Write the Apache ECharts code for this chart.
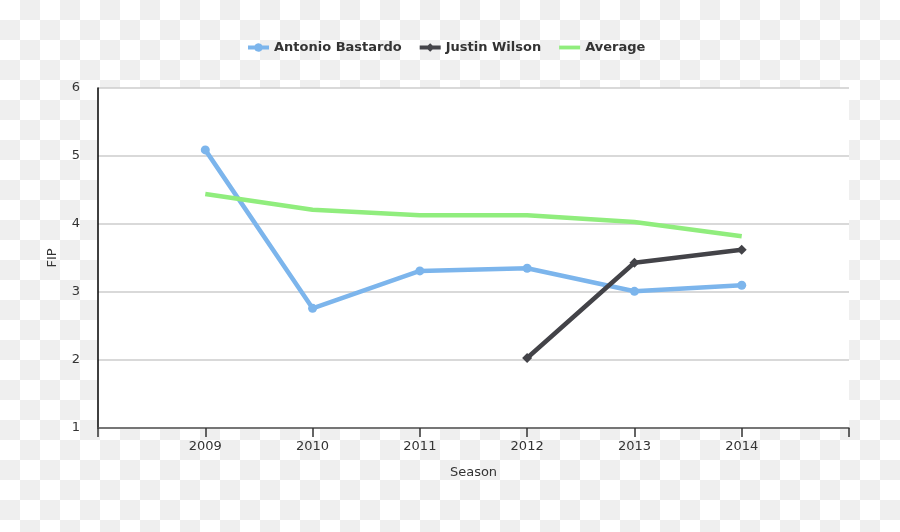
<!DOCTYPE html>
<html>
<head>
<meta charset="utf-8">
<script src="https://cdn.jsdelivr.net/npm/echarts@6/dist/echarts.min.js"></script>
<style>
html,body{margin:0;padding:0;}
body{background:repeating-conic-gradient(#efefef 0 25%, #fff 0 50%) 0 0/40px 40px;}
#c{width:900px;height:532px;}
</style>
</head>
<body>
<div id="c"></div>
<script>
const seasons = [2009, 2010, 2011, 2012, 2013, 2014];
const bastardo = [5.09, 2.76, 3.31, 3.35, 3.01, 3.10];
const wilsonSeasons = [2012, 2013, 2014];
const wilson = [2.03, 3.43, 3.62];
const average = [4.44, 4.21, 4.13, 4.13, 4.03, 3.82];
const yTicks = [1, 2, 3, 4, 5, 6];

const pair = (xs, ys) => xs.map((x, i) => [x, ys[i]]);
const font = 'DejaVu Sans';

const iconCircle = 'path://M0,5H6.97A4.5,4.5 0 0 1 15.03,5H22V9H15.03A4.5,4.5 0 0 1 6.97,9H0Z';
const iconDiamond = 'path://M0,5H8.5L11,2.5L13.5,5H22V9H13.5L11,11.5L8.5,9H0Z';
const iconLine = 'path://M0,5H22V9H0Z';

const chart = echarts.init(document.getElementById('c'), null, {renderer: 'canvas'});
chart.setOption({
  backgroundColor: 'transparent',
  animation: false,
  textStyle: {fontFamily: font},
  legend: {
    top: 41,
    left: 248,
    padding: 0,
    itemGap: 18,
    itemWidth: 21,
    itemHeight: 10,
    textStyle: {fontFamily: font, fontSize: 13, fontWeight: 'bold', color: '#333'},
    data: [
      {name: 'Antonio Bastardo', icon: iconCircle},
      {name: 'Justin Wilson', icon: iconDiamond},
      {name: 'Average', icon: iconLine}
    ]
  },
  grid: {
    left: 98, right: 51, top: 88, bottom: 104,
    show: true, backgroundColor: '#fff', borderWidth: 0
  },
  xAxis: {
    type: 'value',
    min: 2008, max: 2015, interval: 1,
    name: 'Season',
    nameLocation: 'middle',
    nameGap: 38,
    nameTextStyle: {fontFamily: font, fontSize: 13, color: '#333'},
    axisLine: {show: true, lineStyle: {color: '#555', width: 1.5}},
    axisTick: {show: true, length: 9, lineStyle: {color: '#333', width: 1.5}},
    axisLabel: {
      margin: 12, fontFamily: font, fontSize: 13, color: '#333',
      formatter: v => seasons.indexOf(v) >= 0 ? String(v) : ''
    },
    splitLine: {show: false}
  },
  yAxis: {
    type: 'value',
    min: yTicks[0], max: yTicks[yTicks.length - 1], interval: 1,
    name: 'FIP',
    nameLocation: 'middle',
    nameGap: 39,
    nameTextStyle: {fontFamily: font, fontSize: 13, color: '#333'},
    axisLine: {show: true, lineStyle: {color: '#000', width: 1.5}},
    axisTick: {show: false},
    axisLabel: {margin: 18, fontFamily: font, fontSize: 13, color: '#333'},
    splitLine: {show: true, lineStyle: {color: '#ccc', width: 1.5}}
  },
  series: [
    {
      name: 'Antonio Bastardo', type: 'line',
      data: pair(seasons, bastardo),
      color: '#7cb5ec',
      lineStyle: {width: 4.5, color: '#7cb5ec'},
      symbol: 'circle', symbolSize: 9,
      itemStyle: {color: '#7cb5ec'}
    },
    {
      name: 'Justin Wilson', type: 'line',
      data: pair(wilsonSeasons, wilson),
      color: '#434348',
      lineStyle: {width: 4.5, color: '#434348'},
      symbol: 'diamond', symbolSize: 10,
      itemStyle: {color: '#434348'}
    },
    {
      name: 'Average', type: 'line',
      data: pair(seasons, average),
      color: '#90ed7d',
      lineStyle: {width: 4.5, color: '#90ed7d'},
      symbol: 'none', showSymbol: false,
      itemStyle: {color: '#90ed7d'}
    }
  ]
});
</script>
</body>
</html>
